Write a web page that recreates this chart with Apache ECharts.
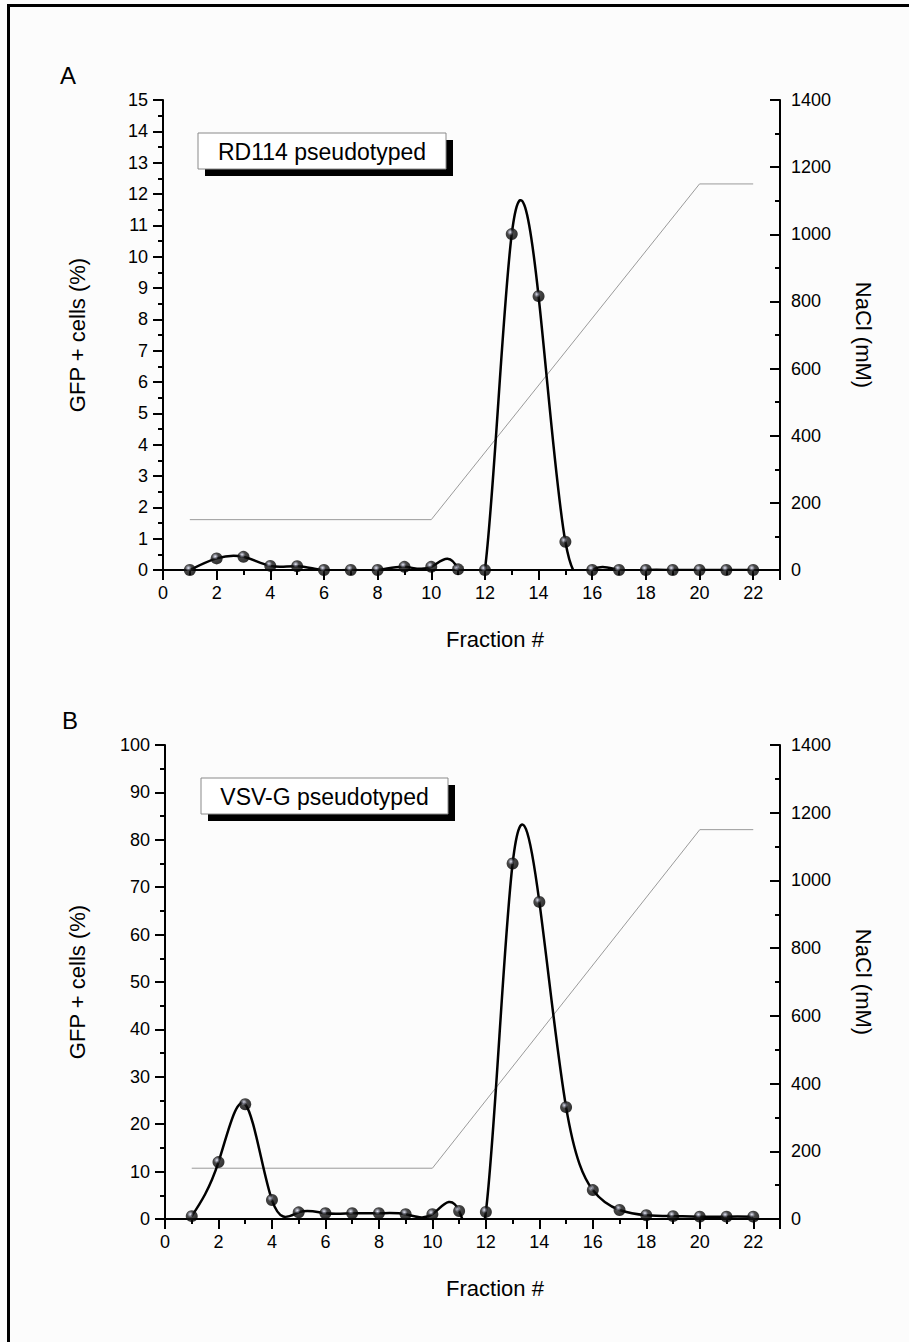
<!DOCTYPE html>
<html>
<head>
<meta charset="utf-8">
<script src="https://cdn.jsdelivr.net/npm/echarts@6/dist/echarts.min.js"></script>
<style>
html,body{margin:0;padding:0;background:#fcfcfc;}
#c{width:909px;height:1342px;}
</style>
</head>
<body>
<div id="c"></div>
<script>
// ---- data ----
const fractions = [1,2,3,4,5,6,7,8,9,10,11,12,13,14,15,16,17,18,19,20,21,22];
const gfpA = [0.0,0.37,0.42,0.13,0.12,0.0,0.0,0.0,0.1,0.1,0.02,0.0,10.72,8.74,0.9,0.0,0.0,0.0,0.0,0.0,0.0,0.0];
const gfpB = [0.6,12.0,24.2,4.0,1.4,1.2,1.2,1.2,1.0,1.0,1.7,1.5,75.0,66.9,23.6,6.1,1.9,0.8,0.6,0.5,0.5,0.5];
const naclX = [1,10,20,22];
const naclY = [150,150,1150,1150];
const labelA = 'RD114 pseudotyped';
const labelB = 'VSV-G pseudotyped';
const xTitle = 'Fraction #';
const yLeftTitle = 'GFP + cells (%)';
const yRightTitle = 'NaCl (mM)';

const FONT = '"Liberation Sans", Arial, Helvetica, sans-serif';
const chart = echarts.init(document.getElementById('c'), null, {renderer:'svg', width:909, height:1342});

function pairs(xs, ys){ return xs.map((x,i)=>[x, ys[i]]); }

// node slopes of a natural cubic spline through (xs, ys) -- used only to draw the connecting curve
function splineSlopes(xs, ys){
  const n = xs.length, h = [], M = new Array(n).fill(0);
  for (let i=0;i<n-1;i++) h.push(xs[i+1]-xs[i]);
  const a=[],b=[],c=[],d=[];
  for (let i=1;i<n-1;i++){
    a.push(h[i-1]); b.push(2*(h[i-1]+h[i])); c.push(h[i]);
    d.push(6*((ys[i+1]-ys[i])/h[i]-(ys[i]-ys[i-1])/h[i-1]));
  }
  const m=b.length;
  for (let i=1;i<m;i++){ const w=a[i]/b[i-1]; b[i]-=w*c[i-1]; d[i]-=w*d[i-1]; }
  const sol=new Array(m);
  for (let i=m-1;i>=0;i--) sol[i]=(d[i]-(i<m-1?c[i]*sol[i+1]:0))/b[i];
  for (let i=0;i<m;i++) M[i+1]=sol[i];
  const s=[];
  for (let i=0;i<n-1;i++) s.push((ys[i+1]-ys[i])/h[i]-h[i]*(2*M[i]+M[i+1])/6);
  s.push((ys[n-1]-ys[n-2])/h[n-2]+h[n-2]*(M[n-2]+2*M[n-1])/6);
  return s;
}

const black = '#000';
function xAxes(g){
  return [
    { gridIndex:g, type:'value', min:0, max:23, interval:1, position:'bottom',
      axisLine:{show:true,onZero:false,lineStyle:{color:black,width:2}},
      axisTick:{show:true,length:5,lineStyle:{color:black,width:2}},
      axisLabel:{show:false}, splitLine:{show:false} },
    { gridIndex:g, type:'value', min:0, max:23, interval:2, position:'bottom',
      axisLine:{show:false,onZero:false},
      axisTick:{show:true,length:10,lineStyle:{color:black,width:2}},
      axisLabel:{show:true,fontSize:18,color:black,fontFamily:FONT,margin:14,
        formatter:v=> (v===23?'':String(v))},
      splitLine:{show:false} }
  ];
}
function yAxes(g, max, interval){
  return [
    { gridIndex:g, type:'value', min:0, max:max, interval:interval, position:'left',
      axisLine:{show:true,onZero:false,lineStyle:{color:black,width:2}},
      axisTick:{show:true,length:10,lineStyle:{color:black,width:2}},
      minorTick:{show:true,splitNumber:2,length:5,lineStyle:{color:black,width:2}},
      axisLabel:{fontSize:18,color:black,fontFamily:FONT,margin:15,formatter:v=>String(v)},
      splitLine:{show:false} },
    { gridIndex:g, type:'value', min:0, max:1400, interval:200, position:'right',
      axisLine:{show:true,onZero:false,lineStyle:{color:black,width:2}},
      axisTick:{show:true,inside:true,length:10,lineStyle:{color:black,width:2}},
      minorTick:{show:true,splitNumber:2,length:5,lineStyle:{color:black,width:2}},
      axisLabel:{fontSize:18,color:black,fontFamily:FONT,margin:11,formatter:v=>String(v)},
      splitLine:{show:false} }
  ];
}

const ball = new echarts.graphic.RadialGradient(0.38,0.34,0.62,[
  {offset:0,color:'#e6e8f6'},{offset:0.18,color:'#8a8c9c'},{offset:0.42,color:'#1a1a1a'},{offset:1,color:'#000'}
]);

function curveSeries(xi, yi, data){
  const slopes = splineSlopes(fractions, data);
  return { type:'custom', xAxisIndex:xi, yAxisIndex:yi, clip:true, z:4,
    data: pairs(fractions, data),
    renderItem:function(params, api){
      const i = params.dataIndex;
      if (i >= fractions.length-1) return null;
      const x0=fractions[i], x1=fractions[i+1], h=x1-x0;
      const p0=api.coord([x0,data[i]]);
      const c0=api.coord([x0+h/3, data[i]+slopes[i]*h/3]);
      const c1=api.coord([x1-h/3, data[i+1]-slopes[i+1]*h/3]);
      const p1=api.coord([x1,data[i+1]]);
      return { type:'bezierCurve',
        shape:{x1:p0[0],y1:p0[1],cpx1:c0[0],cpy1:c0[1],cpx2:c1[0],cpy2:c1[1],x2:p1[0],y2:p1[1]},
        style:{stroke:black,lineWidth:2.5,fill:null} };
    },
    emphasis:{disabled:true}, silent:true };
}
function markerSeries(xi, yi, data){
  return { type:'scatter', xAxisIndex:xi, yAxisIndex:yi, data:pairs(fractions,data),
    symbol:'circle', symbolSize:12, z:6, clip:false,
    itemStyle:{color:ball,borderWidth:0}, emphasis:{disabled:true} };
}
function naclSeries(xi, yi){
  return { type:'line', xAxisIndex:xi, yAxisIndex:yi, data:pairs(naclX,naclY),
    symbol:'none', z:2, lineStyle:{color:'#9a9a9a',width:1}, emphasis:{disabled:true} };
}

function txt(x,y,text,size,rot){
  return { type:'text', x:x, y:y, rotation:rot||0, z:10,
    style:{text:text, fill:black, font:size+'px '+FONT, align:'center', verticalAlign:'middle'} };
}
function legendBox(x,y,w,h,text){
  return [
    { type:'rect', z:8, shape:{x:x+7,y:y+7,width:w,height:h}, style:{fill:'#000'} },
    { type:'rect', z:9, shape:{x:x,y:y,width:w,height:h}, style:{fill:'#fff',stroke:'#8a8a8a',lineWidth:1} },
    txt(x+w/2, y+h/2+1, text, 23)
  ];
}

const option = {
  backgroundColor:'#fcfcfc',
  animation:false,
  grid:[
    {left:163, top:100, width:617, height:470},
    {left:165, top:745, width:615, height:474}
  ],
  xAxis:[...xAxes(0), ...xAxes(1)],
  yAxis:[...yAxes(0,15,1), ...yAxes(1,100,10)],
  series:[
    naclSeries(0,1), curveSeries(0,0,gfpA), markerSeries(0,0,gfpA),
    naclSeries(2,3), curveSeries(2,2,gfpB), markerSeries(2,2,gfpB)
  ],
  graphic:[
    { type:'rect', z:1, shape:{x:8.5,y:5.5,width:1200,height:2000}, style:{fill:null,stroke:'#000',lineWidth:3} },
    ...legendBox(198,133,248,36,labelA),
    ...legendBox(201,778,247,36,labelB),
    txt(68,75,'A',24), txt(70,720,'B',24),
    txt(77,335,yLeftTitle,22,Math.PI/2), txt(77,982,yLeftTitle,22,Math.PI/2),
    txt(863,335,yRightTitle,22,-Math.PI/2), txt(863,982,yRightTitle,22,-Math.PI/2),
    txt(495,639,xTitle,22), txt(495,1288,xTitle,22)
  ]
};
chart.setOption(option);
</script>
</body>
</html>
